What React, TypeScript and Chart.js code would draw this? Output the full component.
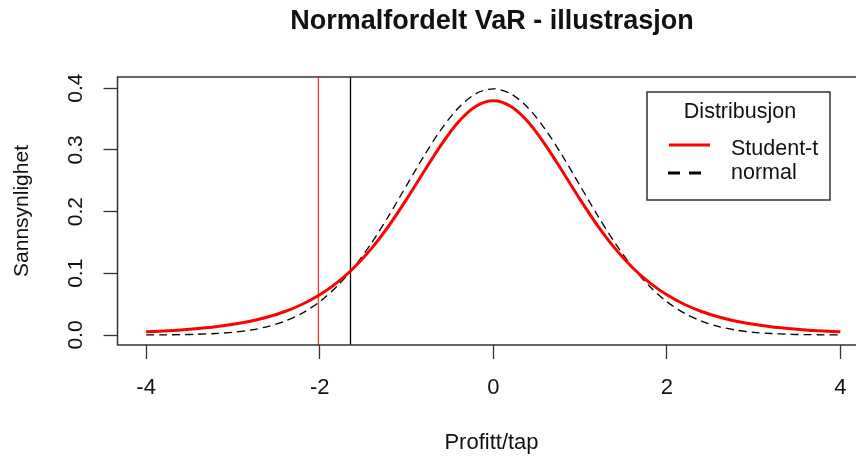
import React, { useEffect, useRef } from 'react';
import { Chart, registerables } from 'chart.js';

Chart.register(...registerables);

const xValues = [
  -4.0, -3.8, -3.6, -3.4, -3.2, -3.0, -2.8, -2.6, -2.4, -2.2, -2.0, -1.8, -1.6, -1.4, -1.2, -1.0, -0.8, -0.6, -0.4, -0.2,
  0.0, 0.2, 0.4, 0.6, 0.8, 1.0, 1.2, 1.4, 1.6, 1.8, 2.0, 2.2, 2.4, 2.6, 2.8, 3.0, 3.2, 3.4, 3.6, 3.8, 4.0,
];
const studentT = [
  0.0051, 0.0065, 0.0082, 0.0105, 0.0134, 0.0173, 0.0224, 0.0292, 0.0381, 0.0498, 0.0651, 0.0848, 0.1098, 0.1407, 0.1777,
  0.2197, 0.2645, 0.3081, 0.3454, 0.3706, 0.3796, 0.3706, 0.3454, 0.3081, 0.2645, 0.2197, 0.1777, 0.1407, 0.1098, 0.0848,
  0.0651, 0.0498, 0.0381, 0.0292, 0.0224, 0.0173, 0.0134, 0.0105, 0.0082, 0.0065, 0.0051,
];
const normal = [
  0.0001, 0.0003, 0.0006, 0.0012, 0.0024, 0.0044, 0.0079, 0.0136, 0.0224, 0.0355, 0.054, 0.079, 0.1109, 0.1497, 0.1942,
  0.242, 0.2897, 0.3332, 0.3683, 0.391, 0.3989, 0.391, 0.3683, 0.3332, 0.2897, 0.242, 0.1942, 0.1497, 0.1109, 0.079,
  0.054, 0.0355, 0.0224, 0.0136, 0.0079, 0.0044, 0.0024, 0.0012, 0.0006, 0.0003, 0.0001,
];
const xTicks = [-4, -2, 0, 2, 4];
const xTickLabels = ['-4', '-2', '0', '2', '4'];
const yTicks = [0, 0.1, 0.2, 0.3, 0.4];
const yTickLabels = ['0.0', '0.1', '0.2', '0.3', '0.4'];
const varStudentT = -2.015;
const varNormal = -1.645;
const chartTitle = 'Normalfordelt VaR - illustrasjon';
const xTitle = 'Profitt/tap';
const yTitle = 'Sannsynlighet';
const legendTitle = 'Distribusjon';
const legendLabels = ['Student-t', 'normal'];

const FONT = '"Liberation Sans", Arial, sans-serif';
const TEXT = '#111';

const decorPlugin = {
  id: 'decor',
  afterDraw(chart: any) {
    const { ctx, chartArea, scales } = chart;
    const y = scales.y;
    ctx.save();
    // frame
    ctx.strokeStyle = '#333';
    ctx.lineWidth = 1.5;
    ctx.beginPath();
    ctx.moveTo(chart.width + 10, chartArea.top);
    ctx.lineTo(chartArea.left, chartArea.top);
    ctx.lineTo(chartArea.left, chartArea.bottom);
    ctx.lineTo(chart.width + 10, chartArea.bottom);
    ctx.stroke();

    ctx.fillStyle = TEXT;
    ctx.textAlign = 'center';
    ctx.textBaseline = 'middle';

    // y tick labels (rotated)
    ctx.font = `21px ${FONT}`;
    yTicks.forEach((v, i) => {
      const py = y.getPixelForValue(v);
      ctx.save();
      ctx.translate(76, py);
      ctx.rotate(-Math.PI / 2);
      ctx.fillText(yTickLabels[i], 0, 0);
      ctx.restore();
    });

    // y title
    ctx.font = `21px ${FONT}`;
    ctx.save();
    ctx.translate(22, (chartArea.top + chartArea.bottom) / 2);
    ctx.rotate(-Math.PI / 2);
    ctx.fillText(yTitle, 0, 0);
    ctx.restore();

    // x title
    ctx.font = `22px ${FONT}`;
    ctx.fillText(xTitle, 491.5, 443);

    // main title
    ctx.font = `bold 27px ${FONT}`;
    ctx.fillText(chartTitle, 492, 22);

    // legend
    const lx0 = 647, lx1 = 830, ly0 = 92, ly1 = 200;
    ctx.fillStyle = '#fff';
    ctx.fillRect(lx0, ly0, lx1 - lx0, ly1 - ly0);
    ctx.strokeStyle = '#333';
    ctx.lineWidth = 1.5;
    ctx.strokeRect(lx0, ly0, lx1 - lx0, ly1 - ly0);
    ctx.fillStyle = TEXT;
    ctx.font = `21.5px ${FONT}`;
    ctx.textAlign = 'center';
    ctx.fillText(legendTitle, 740, 112);
    ctx.textAlign = 'left';
    ctx.fillText(legendLabels[0], 731, 149);
    ctx.fillText(legendLabels[1], 731, 173);
    ctx.strokeStyle = '#ff0000';
    ctx.lineWidth = 3;
    ctx.beginPath();
    ctx.moveTo(669, 145);
    ctx.lineTo(710, 145);
    ctx.stroke();
    ctx.strokeStyle = '#000';
    ctx.setLineDash([12, 9]);
    ctx.beginPath();
    ctx.moveTo(668, 173);
    ctx.lineTo(710, 173);
    ctx.stroke();
    ctx.setLineDash([]);
    ctx.restore();
  },
};

export default function App() {
  const ref = useRef<HTMLCanvasElement | null>(null);
  useEffect(() => {
    if (!ref.current) return;
    const chart = new Chart(ref.current, {
      type: 'line',
      data: {
        datasets: [
          {
            label: legendLabels[0],
            data: xValues.map((x, i) => ({ x, y: studentT[i] })),
            borderColor: '#ff0000',
            borderWidth: 3,
            pointRadius: 0,
            tension: 0.3,
            fill: false,
          },
          {
            label: legendLabels[1],
            data: xValues.map((x, i) => ({ x, y: normal[i] })),
            borderColor: '#000',
            borderWidth: 1.3,
            borderDash: [8, 5],
            pointRadius: 0,
            tension: 0.3,
            fill: false,
          },
          {
            label: 'VaR t',
            data: [{ x: varStudentT, y: -1 }, { x: varStudentT, y: 1 }],
            borderColor: '#ff3030',
            borderWidth: 1.3,
            pointRadius: 0,
          },
          {
            label: 'VaR normal',
            data: [{ x: varNormal, y: -1 }, { x: varNormal, y: 1 }],
            borderColor: '#000',
            borderWidth: 1.3,
            pointRadius: 0,
          },
        ],
      },
      options: {
        animation: false,
        responsive: false,
        devicePixelRatio: 1,
        layout: { padding: { top: 77, left: 0, right: 0, bottom: 0 } },
        plugins: { legend: { display: false }, tooltip: { enabled: false }, title: { display: false } },
        scales: {
          x: {
            type: 'linear',
            min: -4.33,
            max: 4.18,
            afterFit: (s: any) => { s.height = 111; s.paddingLeft = 0; s.paddingRight = 0; },
            afterBuildTicks: (s: any) => { s.ticks = xTicks.map((v) => ({ value: v })); },
            ticks: {
              font: { family: FONT, size: 22 },
              color: TEXT,
              padding: 15.5,
              autoSkip: false,
              maxRotation: 0,
              minRotation: 0,
              callback: (_v: any, i: number) => xTickLabels[i],
            },
            grid: { drawOnChartArea: false, tickLength: 14, tickColor: '#333', tickWidth: 1.3 },
            border: { display: false },
          },
          y: {
            type: 'linear',
            min: -0.0162,
            max: 0.418,
            afterFit: (s: any) => { s.width = 117.5; s.paddingTop = 0; s.paddingBottom = 0; },
            afterBuildTicks: (s: any) => { s.ticks = yTicks.map((v) => ({ value: v })); },
            ticks: { display: false },
            grid: { drawOnChartArea: false, tickLength: 14, tickColor: '#333', tickWidth: 1.3 },
            border: { display: false },
          },
        },
      },
      plugins: [decorPlugin],
    } as any);
    return () => chart.destroy();
  }, []);
  return (
    <div style={{ position: 'absolute', left: 0, top: 0, width: 856, height: 456, background: '#fff' }}>
      <canvas ref={ref} width={856} height={456} style={{ display: 'block' }} />
    </div>
  );
}
